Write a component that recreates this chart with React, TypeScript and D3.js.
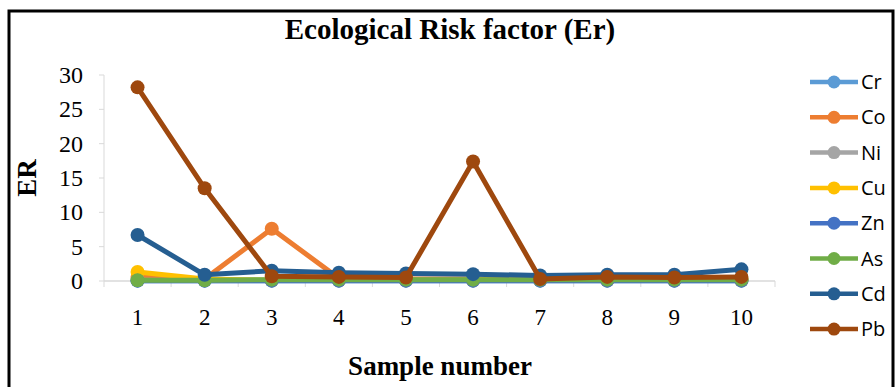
import React from 'react';
import * as d3 from 'd3';

const samples = ['1', '2', '3', '4', '5', '6', '7', '8', '9', '10'];
const yTicks = [0, 5, 10, 15, 20, 25, 30];

const seriesNames = ['Cr', 'Co', 'Ni', 'Cu', 'Zn', 'As', 'Cd', 'Pb'];
const seriesColors = ['#5B9BD5', '#ED7D31', '#A5A5A5', '#FFC000', '#4472C4', '#70AD47', '#255E91', '#9E480E'];

const crValues = [0.05, 0.05, 0.05, 0.05, 0.05, 0.05, 0.05, 0.05, 0.05, 0.05];
const coValues = [0.6, 0.3, 7.6, 0.4, 0.3, 0.3, 0.3, 0.3, 0.3, 0.3];
const niValues = [0.1, 0.1, 0.1, 0.1, 0.1, 0.1, 0.1, 0.1, 0.1, 0.1];
const cuValues = [1.3, 0.3, 0.1, 0.1, 0.1, 0.1, 0.1, 0.1, 0.1, 0.1];
const znValues = [0.05, 0.05, 0.05, 0.05, 0.05, 0.05, 0.05, 0.05, 0.05, 0.05];
const asValues = [0.1, 0.1, 0.2, 0.2, 0.2, 0.2, 0.2, 0.2, 0.2, 0.2];
const cdValues = [6.7, 0.9, 1.5, 1.2, 1.1, 1.0, 0.8, 0.9, 0.9, 1.7];
const pbValues = [28.2, 13.5, 0.7, 0.6, 0.5, 17.4, 0.3, 0.6, 0.5, 0.6];

const allValues = [crValues, coValues, niValues, cuValues, znValues, asValues, cdValues, pbValues];

const W = 896, H = 387;
const plot = { left: 104, right: 775, top: 75, bottom: 281 };

const App = () => {
  const x = d3.scaleBand().domain(samples).range([plot.left, plot.right]);
  const y = d3.scaleLinear().domain([0, 30]).range([plot.bottom, plot.top]);
  const line = d3.line<number>()
    .x((_, i) => (x(samples[i]) as number) + x.bandwidth() / 2)
    .y(d => y(d));

  const serif = '"Liberation Serif", "Times New Roman", serif';
  const sans = '"Open Sans", "Liberation Sans", sans-serif';

  return (
    <svg width={W} height={H} style={{ position: 'absolute', left: 0, top: 0, background: '#fff' }}>
      <path d={`M9,${H} V11 H893 V${H}`} fill="none" stroke="#000" strokeWidth={3} />
      <text x={450} y={39} textAnchor="middle" fontFamily={serif} fontWeight="bold" fontSize={29}>
        Ecological Risk factor (Er)
      </text>

      {/* axes */}
      <line x1={plot.left} x2={plot.left} y1={plot.top} y2={plot.bottom} stroke="#d9d9d9" strokeWidth={1} />
      <line x1={plot.left} x2={plot.right} y1={plot.bottom} y2={plot.bottom} stroke="#d9d9d9" strokeWidth={1.5} />
      {samples.map((s, i) => (
        <line key={'t' + i} x1={x(s) as number} x2={x(s) as number} y1={plot.bottom} y2={plot.bottom + 6} stroke="#d9d9d9" />
      ))}
      <line x1={plot.right} x2={plot.right} y1={plot.bottom} y2={plot.bottom + 6} stroke="#d9d9d9" />
      {yTicks.map(t => (
        <g key={'y' + t}>
          <line x1={plot.left - 5} x2={plot.left} y1={y(t)} y2={y(t)} stroke="#d9d9d9" />
          <text x={83} y={y(t) + 8} textAnchor="end" fontFamily={serif} fontSize={24}>{t}</text>
        </g>
      ))}
      {samples.map(s => (
        <text key={'x' + s} x={(x(s) as number) + x.bandwidth() / 2} y={325} textAnchor="middle" fontFamily={serif} fontSize={23}>{s}</text>
      ))}
      <text transform={`translate(36,${(plot.top + plot.bottom) / 2}) rotate(-90)`} textAnchor="middle" fontFamily={serif} fontWeight="bold" fontSize={27}>ER</text>
      <text x={440} y={375} textAnchor="middle" fontFamily={serif} fontWeight="bold" fontSize={27}>Sample number</text>

      {/* series */}
      {allValues.map((vals, si) => (
        <g key={'s' + si}>
          <path d={line(vals) || ''} fill="none" stroke={seriesColors[si]} strokeWidth={5} strokeLinejoin="round" />
          {vals.map((v, i) => (
            <circle key={i} cx={(x(samples[i]) as number) + x.bandwidth() / 2} cy={y(v)} r={7} fill={seriesColors[si]} />
          ))}
        </g>
      ))}

      {/* legend */}
      {seriesNames.map((n, i) => {
        const ly = 82 + i * 35.3;
        return (
          <g key={'l' + n}>
            <line x1={810} x2={858} y1={ly} y2={ly} stroke={seriesColors[i]} strokeWidth={4.5} />
            <circle cx={834} cy={ly} r={6.5} fill={seriesColors[i]} />
            <text x={861} y={ly + 7} fontFamily={sans} fontSize={20}>{n}</text>
          </g>
        );
      })}
    </svg>
  );
};

export default App;
